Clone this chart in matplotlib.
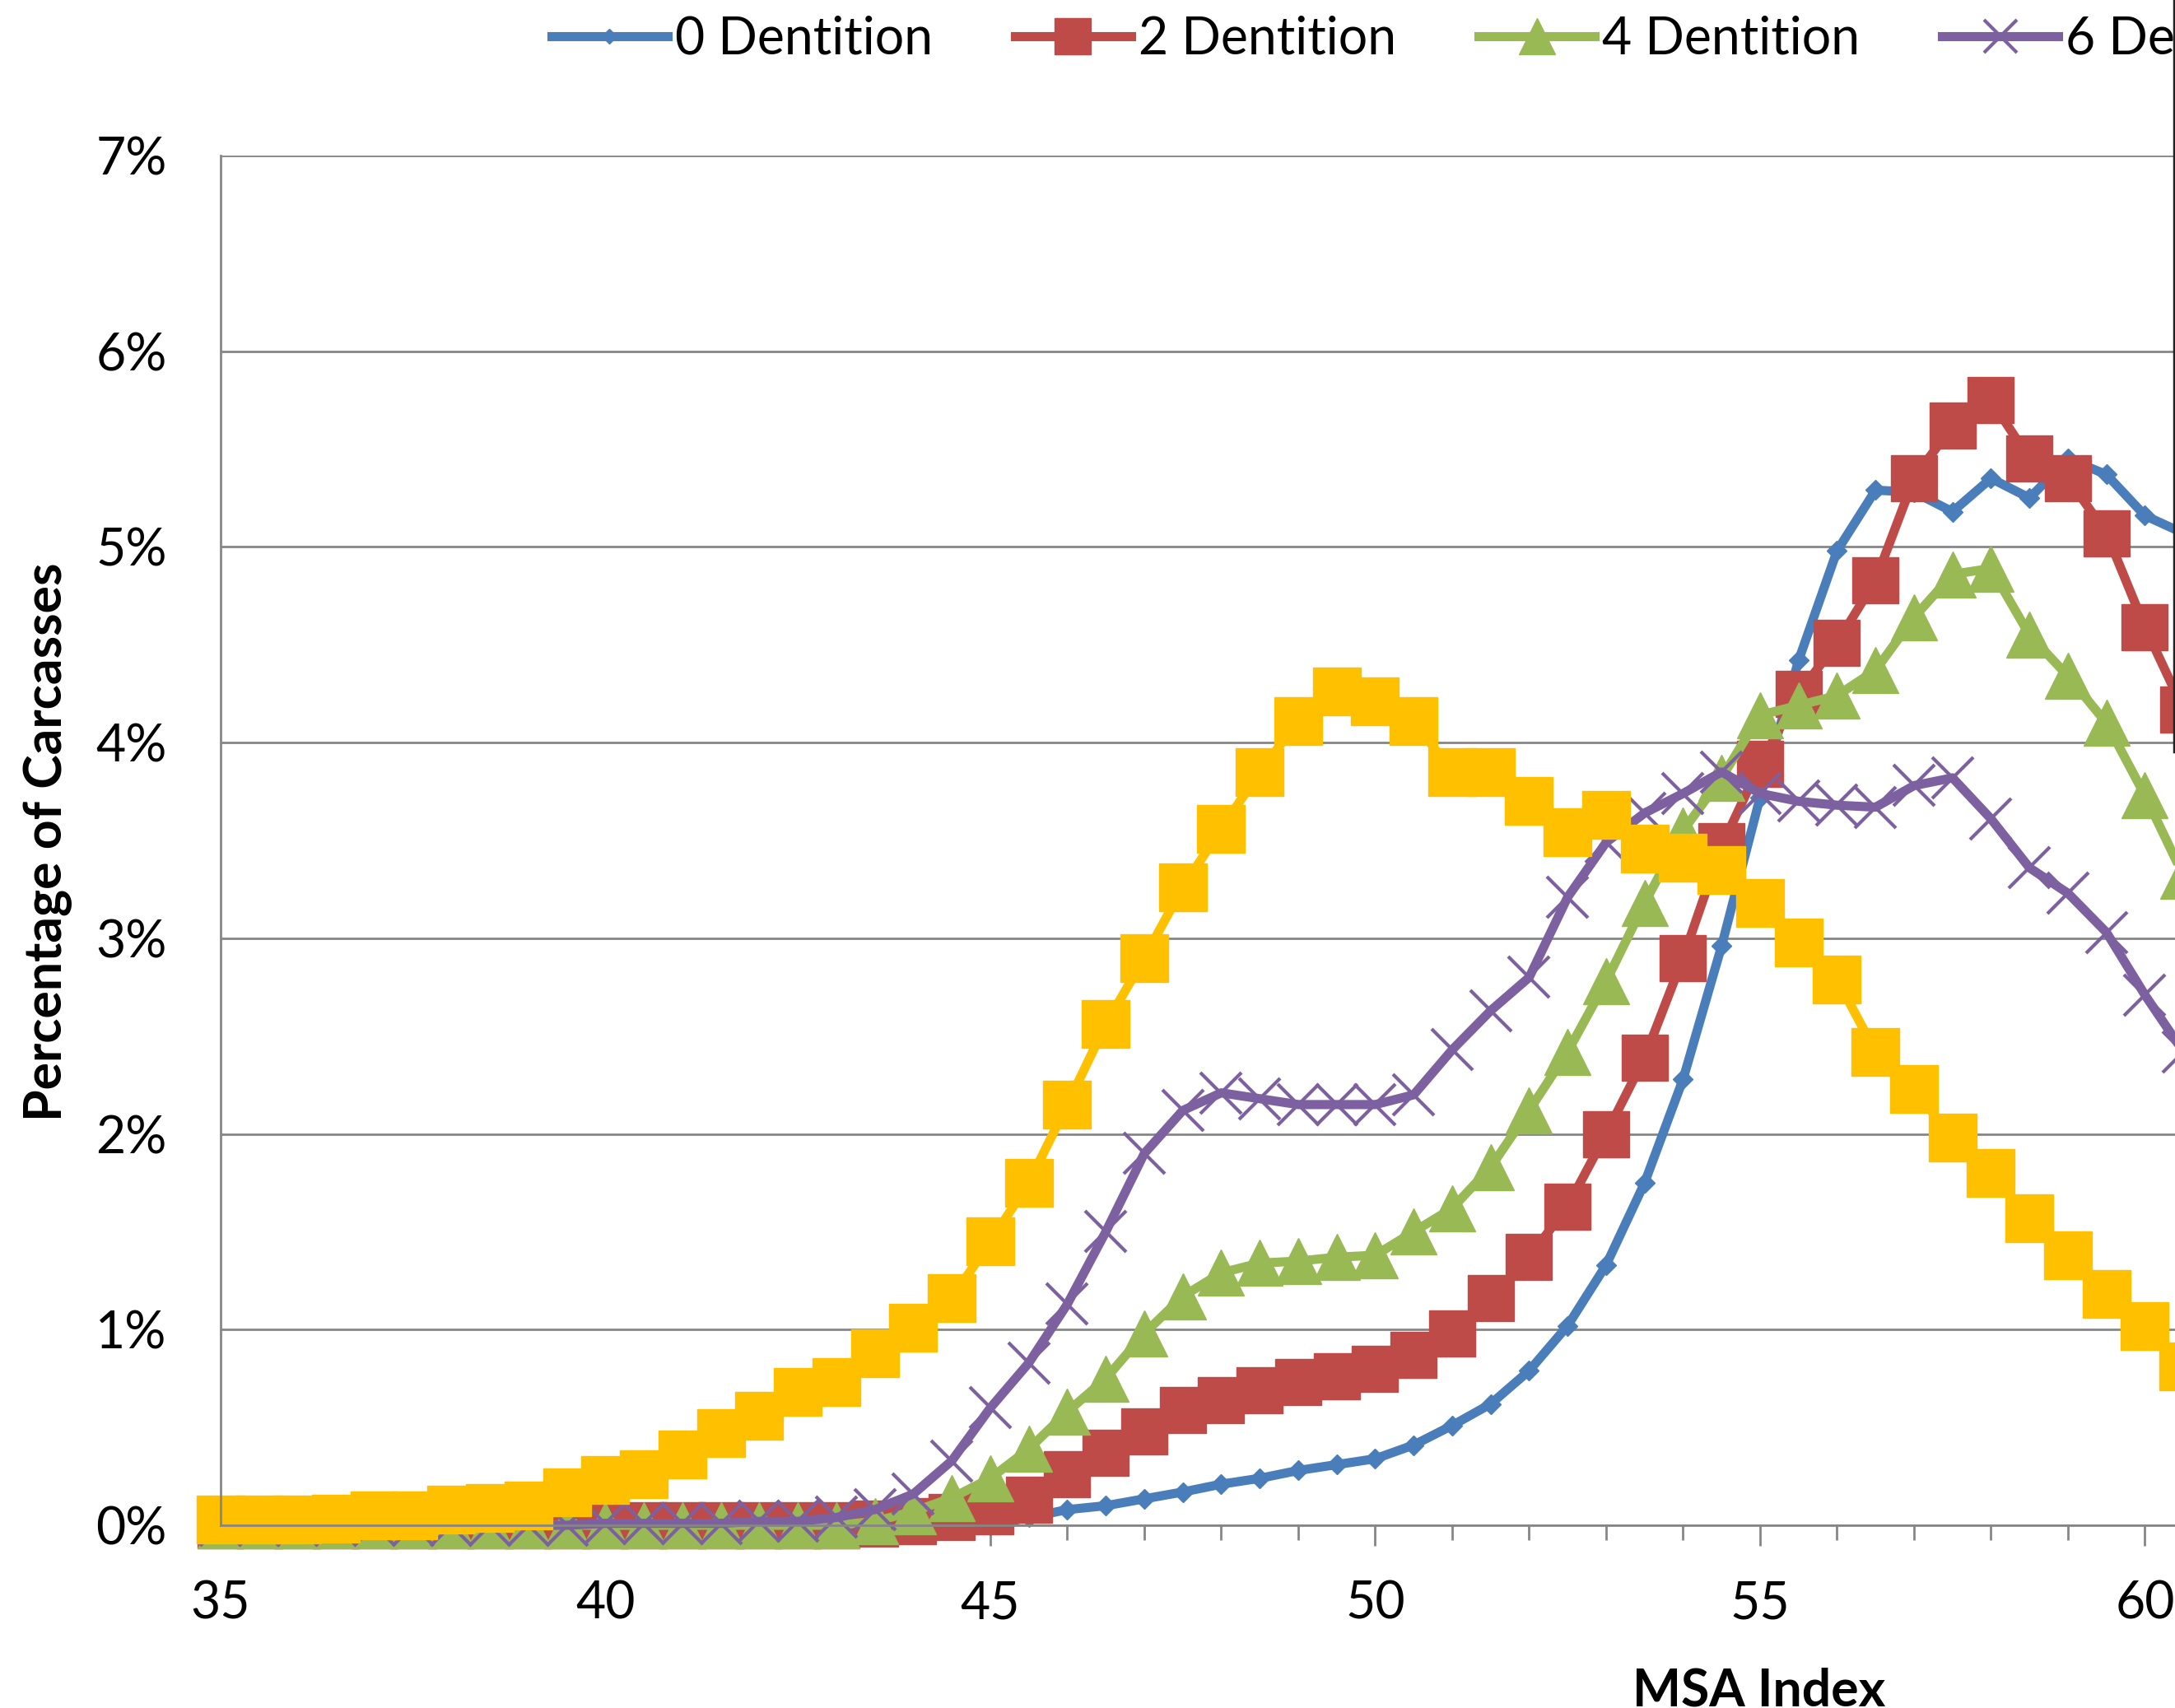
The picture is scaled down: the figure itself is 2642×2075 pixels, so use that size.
import matplotlib.pyplot as plt
from matplotlib.lines import Line2D
from matplotlib.ticker import MultipleLocator, FuncFormatter

plt.rcParams['font.family'] = ['Lato', 'DejaVu Sans']

# MSA index categories (half-point steps)
msa_index = [35.0, 35.5, 36.0, 36.5, 37.0, 37.5, 38.0, 38.5, 39.0, 39.5,
             40.0, 40.5, 41.0, 41.5, 42.0, 42.5, 43.0, 43.5, 44.0, 44.5,
             45.0, 45.5, 46.0, 46.5, 47.0, 47.5, 48.0, 48.5, 49.0, 49.5,
             50.0, 50.5, 51.0, 51.5, 52.0, 52.5, 53.0, 53.5, 54.0, 54.5,
             55.0, 55.5, 56.0, 56.5, 57.0, 57.5, 58.0, 58.5, 59.0, 59.5,
             60.0, 60.5]

# 0 dentition only has records from 45 upwards
msa_index_0 = msa_index[20:]
dent_0 = [0.00, 0.04, 0.08, 0.10, 0.135, 0.17, 0.21, 0.24, 0.28, 0.31,
          0.34, 0.41, 0.51, 0.62, 0.79, 1.02, 1.33, 1.75, 2.28, 2.96,
          3.72, 4.42, 4.98, 5.29, 5.28, 5.18, 5.35, 5.25, 5.45, 5.37,
          5.16, 5.07]

dent_2 = [0.00, 0.00, 0.00, 0.00, 0.00, 0.00, 0.00, 0.00, 0.00, 0.00,
          0.00, 0.00, 0.00, 0.00, 0.00, 0.00, 0.00, 0.01, 0.02, 0.04,
          0.07, 0.13, 0.26, 0.37, 0.48, 0.59, 0.64, 0.69, 0.73, 0.76,
          0.80, 0.87, 0.98, 1.16, 1.37, 1.63, 2.00, 2.39, 2.90, 3.47,
          3.89, 4.25, 4.51, 4.83, 5.35, 5.62, 5.75, 5.45, 5.35, 5.07,
          4.59, 4.17]

dent_4 = [0.00, 0.00, 0.00, 0.00, 0.00, 0.00, 0.00, 0.00, 0.00, 0.00,
          0.00, 0.00, 0.00, 0.00, 0.00, 0.00, 0.00, 0.02, 0.07, 0.14,
          0.24, 0.39, 0.58, 0.75, 0.98, 1.17, 1.29, 1.34, 1.35, 1.37,
          1.38, 1.50, 1.62, 1.83, 2.12, 2.42, 2.78, 3.18, 3.55, 3.82,
          4.14, 4.19, 4.24, 4.37, 4.64, 4.86, 4.89, 4.55, 4.34, 4.10,
          3.73, 3.32]

dent_6 = [0.00, 0.00, 0.00, 0.00, 0.00, 0.00, 0.00, 0.00, 0.00, 0.00,
          0.01, 0.01, 0.01, 0.01, 0.02, 0.02, 0.04, 0.08, 0.16, 0.33,
          0.60, 0.83, 1.13, 1.50, 1.90, 2.12, 2.21, 2.18, 2.15, 2.15,
          2.15, 2.20, 2.43, 2.63, 2.80, 3.21, 3.49, 3.64, 3.74, 3.85,
          3.74, 3.70, 3.68, 3.67, 3.78, 3.82, 3.61, 3.36, 3.23, 3.03,
          2.71, 2.42]

dent_8 = [0.03, 0.03, 0.03, 0.035, 0.05, 0.05, 0.08, 0.09, 0.10, 0.17,
          0.23, 0.26, 0.36, 0.47, 0.56, 0.68, 0.73, 0.88, 1.01, 1.16,
          1.45, 1.75, 2.15, 2.56, 2.90, 3.26, 3.56, 3.85, 4.11, 4.26,
          4.21, 4.11, 3.85, 3.85, 3.70, 3.54, 3.63, 3.46, 3.41, 3.35,
          3.18, 2.98, 2.79, 2.42, 2.23, 1.98, 1.80, 1.57, 1.38, 1.18,
          1.02, 0.81]

W, H = 2642, 2075
fig = plt.figure(figsize=(W / 100, H / 100), dpi=100)
# plot area runs past the right edge of the canvas
ax = fig.add_axes([268 / W, 222 / H, 2431 / W, 1664 / H])

lw = 8
ax.plot(msa_index_0, dent_0, color='#4A7EBB', lw=lw, marker='D', ms=12,
        mec='#4A7EBB', clip_on=False, label='0 Dentition')
ax.plot(msa_index, dent_2, color='#BE4B48', lw=lw, marker='s', ms=40,
        mec='#BE4B48', mew=1, clip_on=False, label='2 Dentition')
ax.plot(msa_index, dent_4, color='#98B954', lw=lw, marker='^', ms=40,
        mec='#98B954', mew=1, clip_on=False, label='4 Dentition')
ax.plot(msa_index, dent_6, color='#7D60A0', lw=lw, marker='x', ms=36,
        mew=3, clip_on=False, label='6 Dentition')
ax.plot(msa_index, dent_8, color='#FFC000', lw=lw, marker='s', ms=42,
        mec='#FFC000', mew=1, clip_on=False, label='8 Dentition')

ax.set_xlim(35, 61)
ax.set_ylim(0, 7)

grey = '#868686'
for side in ['top', 'right']:
    ax.spines[side].set_visible(False)
for side in ['left', 'bottom']:
    ax.spines[side].set_color(grey)
    ax.spines[side].set_linewidth(2)

ax.yaxis.set_major_locator(MultipleLocator(1))
ax.yaxis.set_major_formatter(FuncFormatter(lambda v, p: f'{v:.0f}%'))
ax.xaxis.set_major_locator(MultipleLocator(5))
ax.xaxis.set_minor_locator(MultipleLocator(1))
ax.yaxis.grid(True, color=grey, lw=2)
ax.set_axisbelow(True)

ax.tick_params(axis='y', length=0, pad=47, labelsize=45)
ax.tick_params(axis='x', which='major', direction='out', length=18, width=2,
               color=grey, pad=30, labelsize=45)
ax.tick_params(axis='x', which='minor', direction='out', length=13, width=2,
               color=grey)

ax.legend(ncol=5, loc='center left', bbox_to_anchor=(670 / W, 1 - 48 / H),
          bbox_transform=fig.transFigure, frameon=False, fontsize=45,
          handlelength=2.25, handletextpad=0.15, columnspacing=1.6,
          borderpad=0, borderaxespad=0, markerscale=0.8)

fig.text(2137 / W, 0.001, 'MSA Index', ha='center', va='baseline',
         fontsize=45, fontweight='bold')
fig.text(75 / W, 1 - 1023 / H, 'Percentage of Carcasses', rotation=90,
         rotation_mode='anchor', ha='center', va='baseline',
         fontsize=45, fontweight='bold')

# frame edge on the right
fig.add_artist(Line2D([1 - 1.5 / W, 1 - 1.5 / W], [1, 1 - 913 / H],
                      color='#222222', lw=2.5))

fig.savefig('out.png', dpi=100)
